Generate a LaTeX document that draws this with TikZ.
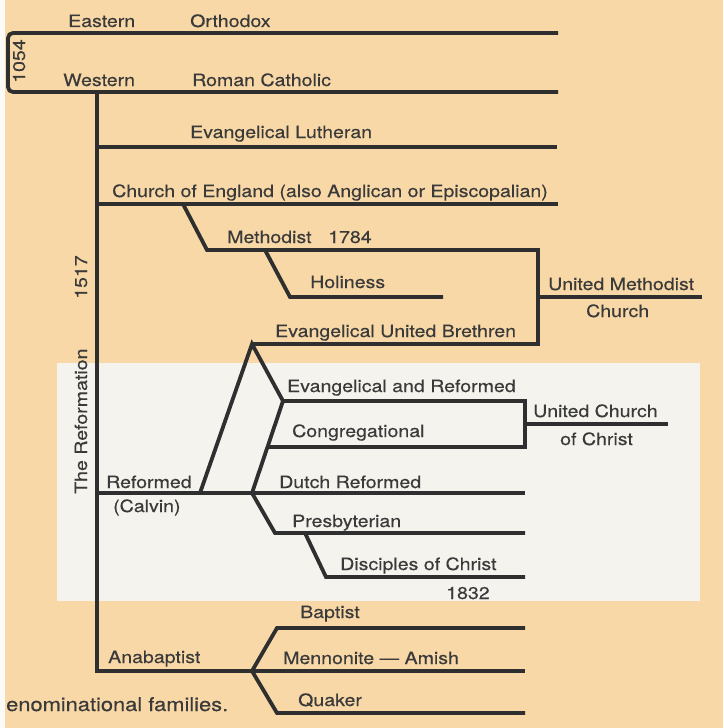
\documentclass[tikz,border=0pt]{standalone}
\usepackage{fontspec}
\setmainfont{TeX Gyre Heros}[FakeStretch=1.15,FakeBold=0.4]
\definecolor{peach}{HTML}{F8D8A6}
\definecolor{paper}{HTML}{F5F3EE}
\definecolor{edge}{HTML}{FBFAF6}
\definecolor{ink}{HTML}{2F2F2F}
\definecolor{txt}{HTML}{3A3A3A}
\begin{document}
\begin{tikzpicture}[x=1pt,y=-1pt,
  branch/.style={draw=ink,line width=3.8pt,line join=miter,miter limit=3},
  lbl/.style={inner sep=0pt,anchor=base west,text=txt,font=\fontsize{17}{20}\selectfont},
  vlbl/.style={lbl,rotate=90}]
% background
\useasboundingbox (0,0) rectangle (723,728);
\fill[peach] (0,0) rectangle (723,728);
\fill[paper] (57,363) rectangle (700,601);
\fill[edge] (0,0) rectangle (5,728);

% junction coordinates
\coordinate (eoR) at (558,33);
\coordinate (eoL) at (8,33);
\coordinate (rcL) at (8,92);
\coordinate (rcR) at (558,92);
\coordinate (trunkTop) at (97,92);
\coordinate (trunkBot) at (97,671);
\coordinate (luL) at (97,147);
\coordinate (luR) at (557,147);
\coordinate (ceL) at (97,204);
\coordinate (ceR) at (558,204);
\coordinate (meS) at (183,204);
\coordinate (meK) at (207,250);
\coordinate (meR) at (538,250);
\coordinate (umJ) at (538,297);
\coordinate (umR) at (702,297);
\coordinate (euR) at (538,344);
\coordinate (euA) at (252,344);
\coordinate (hoS) at (265,250);
\coordinate (hoK) at (290,297);
\coordinate (hoR) at (443,297);
\coordinate (euF) at (200,493);
\coordinate (erK) at (283,401);
\coordinate (erR) at (525,401);
\coordinate (ucJ) at (525,424);
\coordinate (ucR) at (668,424);
\coordinate (coR) at (525,447);
\coordinate (coL) at (269,447);
\coordinate (rfJ) at (252,493);
\coordinate (rfL) at (97,493);
\coordinate (rfR) at (525,493);
\coordinate (prK) at (275,533);
\coordinate (prR) at (525,533);
\coordinate (diS) at (305,533);
\coordinate (diK) at (326,577);
\coordinate (diR) at (525,577);
\coordinate (anJ) at (252,671);
\coordinate (anR) at (525,671);
\coordinate (baK) at (277,628);
\coordinate (baR) at (525,628);
\coordinate (quK) at (277,713);
\coordinate (quR) at (525,713);

% branches
\draw[branch,rounded corners=5pt] (eoR) -- (eoL) -- (rcL) -- (rcR);
\draw[branch] (trunkTop) -- (trunkBot) -- (anR);
\draw[branch] (luL) -- (luR);
\draw[branch] (ceL) -- (ceR);
\draw[branch] (meS) -- (meK) -- (meR) -- (euR) -- (euA);
\draw[branch] (umJ) -- (umR);
\draw[branch] (hoS) -- (hoK) -- (hoR);
\draw[branch] (euF) -- (euA) -- (erK) -- (erR) -- (coR) -- (coL);
\draw[branch] (erK) -- (rfJ);
\draw[branch] (ucJ) -- (ucR);
\draw[branch] (rfL) -- (rfR);
\draw[branch] (rfJ) -- (prK) -- (prR);
\draw[branch] (diS) -- (diK) -- (diR);
\draw[branch] (anJ) -- (baK) -- (baR);
\draw[branch] (anJ) -- (quK) -- (quR);

% labels
\node[lbl] (eastern) at (68,27) {Eastern};
\node[lbl] (orthodox) at (190,27) {Orthodox};
\node[lbl] (western) at (63,86) {Western};
\node[lbl] (roman) at (192,86) {Roman Catholic};
\node[lbl] (lutheran) at (190,138) {Evangelical Lutheran};
\node[lbl] (england) at (112,197) {Church of England (also Anglican or Episcopalian)};
\node[lbl] (methodist) at (227,243) {Methodist};
\node[lbl] (y1784) at (328,243) {1784};
\node[lbl] (holiness) at (310,288) {Holiness};
\node[lbl] (eub) at (275,337) {Evangelical United Brethren};
\node[lbl] (umc1) at (548,290) {United Methodist};
\node[lbl] (umc2) at (586,317) {Church};
\node[lbl] (evref) at (287,392) {Evangelical and Reformed};
\node[lbl] (congr) at (292,437) {Congregational};
\node[lbl] (ucc1) at (533,417) {United Church};
\node[lbl] (ucc2) at (560,445) {of Christ};
\node[lbl] (reformed) at (106,488) {Reformed};
\node[lbl] (calvin) at (113,512) {(Calvin)};
\node[lbl] (dutch) at (279,488) {Dutch Reformed};
\node[lbl] (presb) at (292,527) {Presbyterian};
\node[lbl] (disc) at (340,570) {Disciples of Christ};
\node[lbl] (y1832) at (446,599) {1832};
\node[lbl] (baptist) at (300,618) {Baptist};
\node[lbl] (anabap) at (108,663) {Anabaptist};
\node[lbl] (menno) at (283,664) {Mennonite — Amish};
\node[lbl] (quaker) at (298,706) {Quaker};
\node[lbl,font=\fontsize{19}{22}\selectfont] (caption) at (6,711) {enominational families.};
\node[vlbl] (y1054) at (25,83) {1054};
\node[vlbl] (y1517) at (87,299) {1517};
\node[vlbl] (reform) at (87,494) {The Reformation};
\end{tikzpicture}
\end{document}
